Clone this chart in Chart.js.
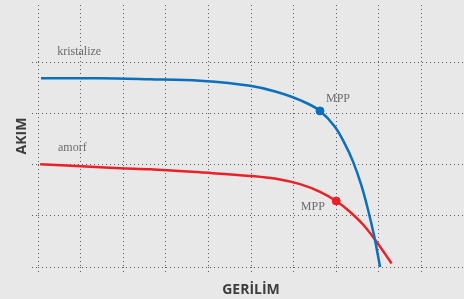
<!DOCTYPE html>
<html>
<head>
<meta charset="utf-8">
<script src="https://cdn.jsdelivr.net/npm/chart.js@4/dist/chart.umd.min.js"></script>
<style>
  html, body { margin: 0; padding: 0; background: #e7e8e7; overflow: hidden; }
  #wrap { width: 464px; height: 299px; position: relative; }
</style>
</head>
<body>
<div id="wrap"><canvas id="myChart"></canvas></div>
<script>
// valeurs (unités = cases de la grille)
const kristalizeGerilim = [0.07, 1.46, 2.63, 3.80, 4.98, 5.57, 6.15, 6.62, 6.97, 7.17, 7.40, 7.60, 7.75, 7.89, 7.97, 8.03];
const kristalizeAkim    = [3.69, 3.69, 3.67, 3.64, 3.54, 3.43, 3.26, 3.05, 2.74, 2.46, 2.05, 1.57, 1.11, 0.61, 0.27, 0.00];
const amorfGerilim = [0.05, 1.92, 2.63, 3.80, 4.98, 5.68, 6.15, 6.62, 7.00, 7.32, 7.64, 7.95, 8.30];
const amorfAkim    = [2.01, 1.93, 1.91, 1.85, 1.78, 1.71, 1.62, 1.47, 1.29, 1.08, 0.82, 0.49, 0.07];

// points MPP
const mppKristalize = [6.62, 3.05];
const mppAmorf = [7.00, 1.29];

// textes posés sur le graphe : [texte, x, y]
const etiquettes = [
    ["kristalize", 0.45, 4.20],
    ["amorf", 0.47, 2.32],
    ["MPP", 6.76, 3.28],
    ["MPP", 6.17, 1.17]
];

function points(xs, ys) {
    return xs.map((x, i) => ({ x: x, y: ys[i] }));
}

const bleu = '#0b6fbd';
const rouge = '#ec2029';
const gris = '#5e5e5e';

// plugin pour écrire les étiquettes
const pluginEtiquettes = {
    id: 'etiquettes',
    afterDatasetsDraw(chart) {
        const ctx = chart.ctx;
        const sx = chart.scales.x;
        const sy = chart.scales.y;
        ctx.save();
        ctx.font = '12px "Liberation Serif", serif';
        ctx.fillStyle = '#6b6b6b';
        ctx.textAlign = 'left';
        ctx.textBaseline = 'middle';
        etiquettes.forEach(e => {
            ctx.fillText(e[0], sx.getPixelForValue(e[1]), sy.getPixelForValue(e[2]));
        });
        ctx.restore();
    }
};

const grille = {
    color: gris,
    lineWidth: 1,
    drawTicks: true,
    tickBorderDash: [1, 3],
    tickColor: gris
};

const myChart = new Chart(document.getElementById('myChart').getContext('2d'), {
    type: 'line',
    data: {
        datasets: [
            {
                label: 'kristalize',
                data: points(kristalizeGerilim, kristalizeAkim),
                borderColor: bleu,
                borderWidth: 2.5,
                pointRadius: 0,
                cubicInterpolationMode: 'monotone'
            },
            {
                label: 'amorf',
                data: points(amorfGerilim, amorfAkim),
                borderColor: rouge,
                borderWidth: 2.5,
                pointRadius: 0,
                cubicInterpolationMode: 'monotone'
            },
            {
                label: 'MPP kristalize',
                data: [{ x: mppKristalize[0], y: mppKristalize[1] }],
                showLine: false,
                pointRadius: 4,
                pointBackgroundColor: bleu,
                pointBorderColor: bleu
            },
            {
                label: 'MPP amorf',
                data: [{ x: mppAmorf[0], y: mppAmorf[1] }],
                showLine: false,
                pointRadius: 4,
                pointBackgroundColor: rouge,
                pointBorderColor: rouge
            }
        ]
    },
    options: {
        responsive: true,
        maintainAspectRatio: false,
        animation: false,
        layout: { autoPadding: false, padding: { top: 5, left: 4, right: 0, bottom: 0.6 } },
        plugins: {
            legend: { display: false },
            tooltip: { enabled: false }
        },
        scales: {
            x: {
                type: 'linear',
                min: 0,
                max: 10,
                border: { display: false, dash: [1, 3] },
                grid: Object.assign({}, grille, { tickLength: 5 }),
                ticks: { display: false, stepSize: 1 },
                title: {
                    display: true,
                    text: 'GERİLİM',
                    color: '#3d3d3d',
                    font: { family: '"Open Sans", sans-serif', size: 14, weight: 'bold' },
                    padding: { top: 9.6, bottom: 0 }
                }
            },
            y: {
                type: 'linear',
                min: 0,
                max: 5.12,
                border: { display: false, dash: [1, 3] },
                grid: Object.assign({}, grille, { tickLength: 6 }),
                ticks: { display: false, stepSize: 1 },
                afterBuildTicks: (scale) => {
                    scale.ticks = scale.ticks.filter(t => t.value <= 5);
                },
                title: {
                    display: true,
                    text: 'AKIM',
                    color: '#3d3d3d',
                    font: { family: '"Open Sans", sans-serif', size: 14, weight: 'bold' },
                    padding: { top: 10, bottom: 1.2 }
                }
            }
        }
    },
    plugins: [pluginEtiquettes]
});
</script>
</body>
</html>
